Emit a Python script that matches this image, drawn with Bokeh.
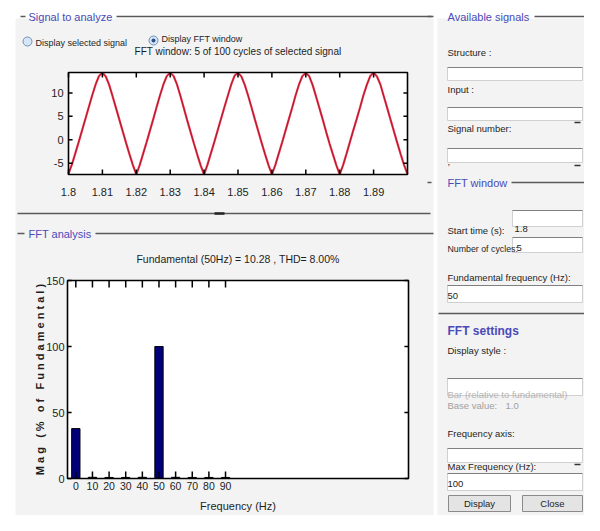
import numpy as np
from bokeh.plotting import figure
from bokeh.models import Range1d
from bokeh.core.properties import value
from bokeh.embed import file_html
from bokeh.resources import INLINE

# ---------------- data ----------------
sig_time = [round(1.8 + i * 0.001, 3) for i in range(101)]
sig_values = [
    -7.2, -5.3, -2.9, -0.5, 2.0, 4.5, 7.0, 9.5, 11.8, 13.6, 14.3, 13.5, 11.7, 9.3, 6.8, 4.3, 1.8, -0.7, -3.1, -5.4, -7.4,
    -5.4, -3.0, -0.6, 1.9, 4.4, 7.0, 9.5, 11.8, 13.6, 14.3, 13.6, 11.8, 9.4, 6.8, 4.2, 1.7, -0.8, -3.2, -5.5, -7.4,
    -5.3, -2.9, -0.5, 2.0, 4.5, 7.0, 9.4, 11.8, 13.7, 14.3, 13.5, 11.7, 9.4, 6.9, 4.3, 1.8, -0.7, -3.1, -5.4, -7.4,
    -5.4, -3.0, -0.6, 1.9, 4.4, 6.9, 9.5, 11.8, 13.6, 14.2, 13.6, 11.7, 9.3, 6.8, 4.3, 1.7, -0.8, -3.1, -5.4, -7.4,
    -5.4, -3.0, -0.5, 2.0, 4.4, 6.9, 9.5, 11.7, 13.6, 14.3, 13.5, 11.8, 9.3, 6.8, 4.3, 1.8, -0.7, -3.1, -5.4, -7.3,
]
sig_xticks = [1.8, 1.81, 1.82, 1.83, 1.84, 1.85, 1.86, 1.87, 1.88, 1.89]
sig_xlabels = ["1.8", "1.81", "1.82", "1.83", "1.84", "1.85", "1.86", "1.87", "1.88", "1.89"]
sig_yticks = [-5, 0, 5, 10]
sig_ylabels = ["-5", "0", "5", "10"]
sig_xlim = (1.8, 1.9)
sig_ylim = (-7.4, 14.35)
sig_title = "FFT window: 5 of 100 cycles of selected signal"

fft_freq = [0, 10, 20, 30, 40, 50, 60, 70, 80, 90]
fft_mag = [37.8, 0.9, 0.8, 0.8, 0.9, 100.0, 0.9, 0.8, 0.8, 0.8]
fft_xticks = [0, 10, 20, 30, 40, 50, 60, 70, 80, 90]
fft_xlabels = ["0", "10", "20", "30", "40", "50", "60", "70", "80", "90"]
fft_yticks = [0, 50, 100, 150]
fft_ylabels = ["0", "50", "100", "150"]
fft_xlim = (-5, 200)
fft_ylim = (0, 150)
fft_title = "Fundamental (50Hz) = 10.28 , THD= 8.00%"
fft_xlabel = "Frequency (Hz)"
fft_ylabel = "\u00a0".join("Mag (% of Fundamental)").replace(" ", "\u00a0")

# ---------------- canvas ----------------
FONT = value("Liberation Sans")
BLUE = "#4a4ab8"
TXT = "#1e1e1e"

p = figure(width=584, height=515, x_range=Range1d(0, 584), y_range=Range1d(515, 0),
           output_backend="svg", toolbar_location=None,
           x_axis_location=None, y_axis_location=None, min_border=0)
p.grid.visible = False
p.outline_line_color = None
p.background_fill_color = "white"
p.border_fill_color = "white"

# panels
p.quad(left=[15, 437], right=[433, 600], top=[18, 18], bottom=[531, 531],
       fill_color="#f3f3f3", line_color=None)

# group frame lines
p.segment(x0=[20, 116, 17, 17, 95, 427, 534, 427, 511, 438],
          y0=[16, 16, 213, 233, 233, 16, 16, 182, 182, 313],
          x1=[25, 433, 430, 24, 433, 431, 600, 431, 600, 600],
          y1=[16, 16, 213, 233, 233, 16, 16, 182, 182, 313],
          line_color="#5a5a5a", line_width=1.3)
p.segment(x0=[214], y0=[213], x1=[224], y1=[213], line_color="#222222", line_width=2.5)

def label(x, y, t, size="9.5px", color=TXT, align="left", style="normal", baseline="middle"):
    p.text(x=[x], y=[y], text=[t], text_font=FONT, text_font_size=size,
           text_color=color, text_align=align, text_baseline=baseline,
           text_font_style=style)

for (x, y, t) in [(28, 16, "Signal to analyze"), (28, 233, "FFT analysis"),
                  (447, 16, "Available signals"), (447, 182, "FFT window")]:
    label(x, y, t, size="11px", color=BLUE)
label(447, 330, "FFT settings", size="12px", color=BLUE, style="bold")

# input boxes
bx_l = [447, 447, 447, 512, 512, 447, 447, 447, 447]
bx_r = [582, 582, 582, 582, 582, 582, 582, 582, 582]
bx_t = [67, 107, 148, 210, 237, 285, 378, 448, 473]
bx_b = [80, 120, 162, 226, 252, 302, 395, 462, 490]
p.quad(left=bx_l, right=bx_r, top=bx_t, bottom=bx_b, fill_color="white", line_color="#d0d0d0")
p.segment(x0=bx_l, y0=bx_t, x1=bx_r, y1=bx_t, line_color="#808080", line_width=1)
p.segment(x0=[574, 574, 574], y0=[122, 165, 464], x1=[580, 580, 580], y1=[122, 165, 464],
          line_color="#333333", line_width=1.5)

for (x, y, t) in [(447, 52, "Structure :"), (447, 89, "Input :"), (447, 128, "Signal number:"),
                  (447, 230, "Start time (s):"),
                  (447, 277, "Fundamental frequency (Hz):"), (447, 350, "Display style :"),
                  (447, 433, "Frequency axis:"), (447, 466, "Max Frequency (Hz):"),
                  (514, 228, "1.8"), (516, 247, "5"), (447, 295, "50"), (447, 483, "100"),
                  (447, 161, ",")]:
    label(x, y, t)
label(447, 248, "Number of cycles:", size="8.8px")
label(447, 394, "Bar (relative to fundamental)", color="#b5b5b5")
label(447, 405, "Base value:", color="#a0a0a0")
label(505, 405, "1.0", color="#a0a0a0")

# buttons
p.quad(left=[448, 522], right=[510, 582], top=[495, 495], bottom=[511, 511],
       fill_color="#e4e4e4", line_color="#8a8a8a")
label(479, 503, "Display", align="center")
label(552, 503, "Close", align="center")

# radio buttons
p.scatter(x=[27, 153], y=[41, 40], size=9, marker="circle", fill_color="#d5e6f7", line_color="#6f8fb5")
p.scatter(x=[153], y=[40], size=4, marker="circle", fill_color="#2d4f8a", line_color=None)
label(35, 42, "Display selected signal", size="9px")
label(161, 38, "Display FFT window", size="9px")

# ---------------- signal plot ----------------
sig = p.subplot(x_source=Range1d(*sig_xlim), y_source=Range1d(*sig_ylim),
                x_target=Range1d(68, 407), y_target=Range1d(174, 72))
x0, x1 = sig_xlim
y0, y1 = sig_ylim
sig.quad(left=[x0], right=[x1], bottom=[y0], top=[y1], fill_color="white", line_color=None)
sig.line(x=sig_time, y=sig_values, line_color="#ff3a5c", line_width=2.2)
sig.line(x=sig_time, y=sig_values, line_color="#8c1f1f", line_width=0.9)
tly = (y1 - y0) * 0.05
tlx = (x1 - x0) * 0.012
n = len(sig_xticks)
sig.segment(x0=sig_xticks, y0=[y0] * n, x1=sig_xticks, y1=[y0 + tly] * n, line_color="black", line_width=1.5)
sig.segment(x0=sig_xticks, y0=[y1] * n, x1=sig_xticks, y1=[y1 - tly] * n, line_color="black", line_width=1.5)
m = len(sig_yticks)
sig.segment(x0=[x0] * m, y0=sig_yticks, x1=[x0 + tlx] * m, y1=sig_yticks, line_color="black", line_width=1.5)
sig.segment(x0=[x1] * m, y0=sig_yticks, x1=[x1 - tlx] * m, y1=sig_yticks, line_color="black", line_width=1.5)
sig.quad(left=[x0], right=[x1], bottom=[y0], top=[y1], fill_color=None, line_color="black", line_width=1.6)
sig.text(x=sig_xticks, y=[y0] * n, text=sig_xlabels, y_offset=13, text_align="center", text_baseline="top",
         text_font=FONT, text_font_size="11px", text_color=TXT)
sig.text(x=[x0] * m, y=sig_yticks, text=sig_ylabels, x_offset=-5, text_align="right", text_baseline="middle",
         text_font=FONT, text_font_size="11px", text_color=TXT)
sig.text(x=[(x0 + x1) / 2], y=[y1], text=[sig_title], y_offset=-21, text_align="center", text_baseline="middle",
         text_font=FONT, text_font_size="10px", text_color=TXT)

# ---------------- FFT plot ----------------
fft = p.subplot(x_source=Range1d(*fft_xlim), y_source=Range1d(*fft_ylim),
                x_target=Range1d(67, 408), y_target=Range1d(478, 280))
a0, a1 = fft_xlim
b0, b1 = fft_ylim
fft.quad(left=[a0], right=[a1], bottom=[b0], top=[b1], fill_color="white", line_color=None)
fft.vbar(x=fft_freq, top=fft_mag, bottom=0, width=5, fill_color="#00007a", line_color="black")
tly2 = (b1 - b0) * 0.035
tlx2 = (a1 - a0) * 0.012
n2 = len(fft_xticks)
fft.segment(x0=fft_xticks, y0=[b0] * n2, x1=fft_xticks, y1=[b0 + tly2] * n2, line_color="black", line_width=1.5)
fft.segment(x0=fft_xticks, y0=[b1] * n2, x1=fft_xticks, y1=[b1 - tly2] * n2, line_color="black", line_width=1.5)
m2 = len(fft_yticks)
fft.segment(x0=[a0] * m2, y0=fft_yticks, x1=[a0 + tlx2] * m2, y1=fft_yticks, line_color="black", line_width=1.5)
fft.segment(x0=[a1] * m2, y0=fft_yticks, x1=[a1 - tlx2] * m2, y1=fft_yticks, line_color="black", line_width=1.5)
fft.quad(left=[a0], right=[a1], bottom=[b0], top=[b1], fill_color=None, line_color="black", line_width=1.6)
fft.text(x=fft_xticks, y=[b0] * n2, text=fft_xlabels, y_offset=3, text_align="center", text_baseline="top",
         text_font=FONT, text_font_size="10.5px", text_color=TXT)
fft.text(x=[a0] * m2, y=fft_yticks, text=fft_ylabels, x_offset=-3, text_align="right", text_baseline="middle",
         text_font=FONT, text_font_size="11px", text_color=TXT)
fft.text(x=[(a0 + a1) / 2], y=[b1], text=[fft_title], y_offset=-22, text_align="center", text_baseline="middle",
         text_font=FONT, text_font_size="10.5px", text_color=TXT)
fft.text(x=[(a0 + a1) / 2], y=[b0], text=[fft_xlabel], y_offset=27, text_align="center", text_baseline="middle",
         text_font=FONT, text_font_size="11px", text_color=TXT)
fft.text(x=[a0], y=[(b0 + b1) / 2], text=[fft_ylabel], x_offset=-28, angle=np.pi / 2,
         text_align="center", text_baseline="middle",
         text_font=FONT, text_font_size="11px", text_font_style="bold", text_color=TXT)

open("out.html", "w").write(file_html(p, INLINE))
